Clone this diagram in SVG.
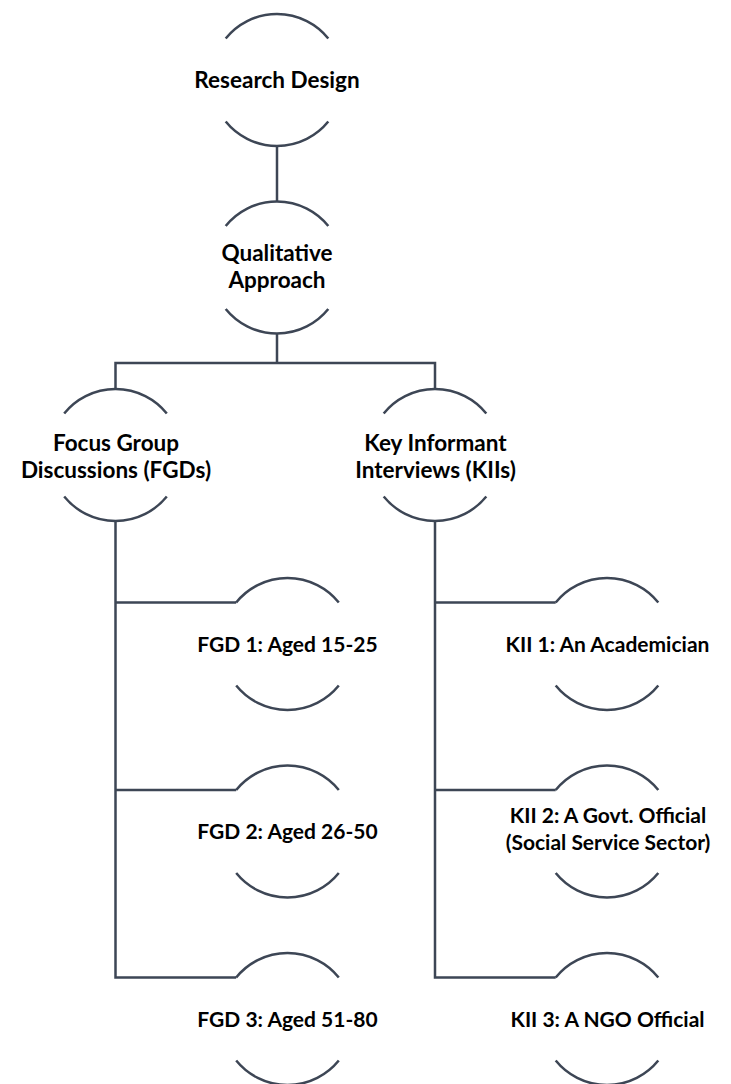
<svg xmlns="http://www.w3.org/2000/svg" width="731" height="1084" viewBox="0 0 731 1084">
<style>
.arc{fill:none;stroke:#3d4655;stroke-width:2.5;stroke-linecap:butt}
.con{fill:none;stroke:#3d4655;stroke-width:2.5}
text{font-family:Lato,"Liberation Sans",sans-serif;font-weight:700;font-size:21px;fill:#000;text-anchor:middle}
.big{font-size:22.5px}
</style>
<rect width="731" height="1084" fill="#fff"/>
<g id="connectors">
<path class="con" d="M277 146 V201.5"/>
<path class="con" d="M277 333.5 V363 M115.5 389 V363 H435 V389"/>
<path class="con" d="M115.5 521 V977.5 H236.2 M115.5 602.5 H236.2 M115.5 790 H236.2"/>
<path class="con" d="M435 521 V977.5 H555.7 M435 602.5 H555.7 M435 790 H555.7"/>
</g>
<g id="research-design">
<path class="arc" d="M225.7 38.5 A66 66 0 0 1 328.3 38.5 M225.7 121.5 A66 66 0 0 0 328.3 121.5"/>
<text class="big" x="277" y="88">Research Design</text>
</g>
<g id="qualitative">
<path class="arc" d="M225.7 226 A66 66 0 0 1 328.3 226 M225.7 309 A66 66 0 0 0 328.3 309"/>
<text class="big" x="277" y="261">Qualitative</text>
<text class="big" x="277" y="287.5">Approach</text>
</g>
<g id="fgds">
<path class="arc" d="M64.2 413.5 A66 66 0 0 1 166.8 413.5 M64.2 496.5 A66 66 0 0 0 166.8 496.5"/>
<text class="big" x="116" y="451">Focus Group</text>
<text class="big" x="116" y="477.5">Discussions (FGDs)</text>
</g>
<g id="kiis">
<path class="arc" d="M383.7 413.5 A66 66 0 0 1 486.3 413.5 M383.7 496.5 A66 66 0 0 0 486.3 496.5"/>
<text class="big" x="435.5" y="451">Key Informant</text>
<text class="big" x="435.5" y="477.5">Interviews (KIIs)</text>
</g>
<g id="fgd1">
<path class="arc" d="M236.2 602.5 A66 66 0 0 1 338.8 602.5 M236.2 685.5 A66 66 0 0 0 338.8 685.5"/>
<text x="287.5" y="651.5">FGD 1: Aged 15-25</text>
</g>
<g id="fgd2">
<path class="arc" d="M236.2 790 A66 66 0 0 1 338.8 790 M236.2 873 A66 66 0 0 0 338.8 873"/>
<text x="287.5" y="839">FGD 2: Aged 26-50</text>
</g>
<g id="fgd3">
<path class="arc" d="M236.2 977.5 A66 66 0 0 1 338.8 977.5 M236.2 1060.5 A66 66 0 0 0 338.8 1060.5"/>
<text x="287.5" y="1026.5">FGD 3: Aged 51-80</text>
</g>
<g id="kii1">
<path class="arc" d="M555.7 602.5 A66 66 0 0 1 658.3 602.5 M555.7 685.5 A66 66 0 0 0 658.3 685.5"/>
<text x="607.5" y="651.5">KII 1: An Academician</text>
</g>
<g id="kii2">
<path class="arc" d="M555.7 790 A66 66 0 0 1 658.3 790 M555.7 873 A66 66 0 0 0 658.3 873"/>
<text x="608" y="823">KII 2: A Govt. Official</text>
<text x="608" y="850">(Social Service Sector)</text>
</g>
<g id="kii3">
<path class="arc" d="M555.7 977.5 A66 66 0 0 1 658.3 977.5 M555.7 1060.5 A66 66 0 0 0 658.3 1060.5"/>
<text x="607.5" y="1026.5">KII 3: A NGO Official</text>
</g>
</svg>
